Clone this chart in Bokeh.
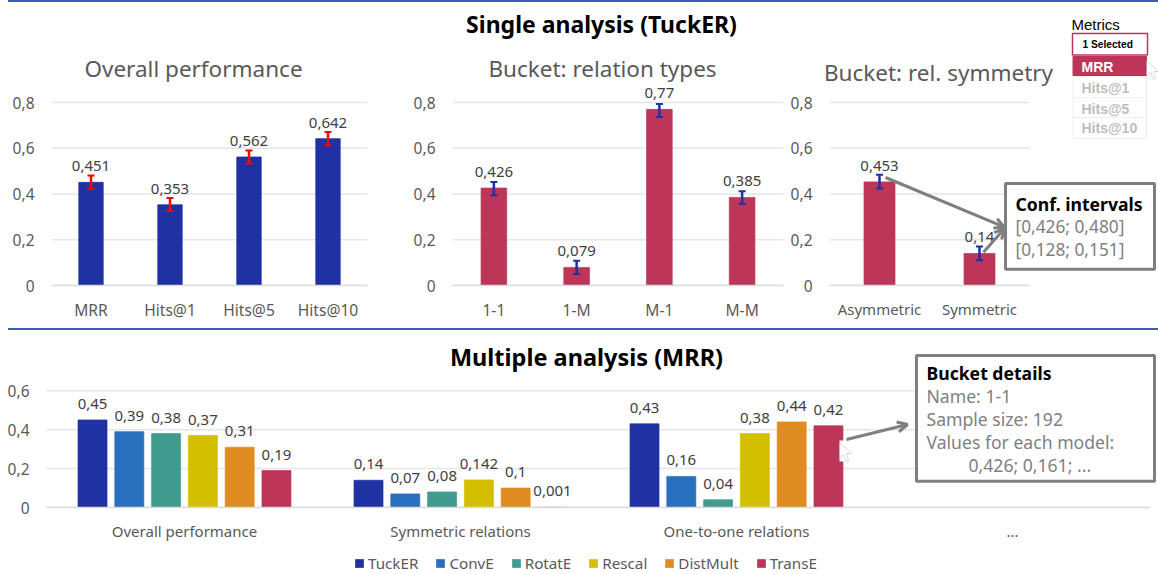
from bokeh.plotting import figure
from bokeh.layouts import column, row
from bokeh.embed import file_html
from bokeh.resources import INLINE
from bokeh.models import (ColumnDataSource, Range1d, FixedTicker, Whisker, TeeHead, Label, Div,
                          BoxAnnotation, Arrow, OpenHead, PolyAnnotation, Legend, LegendItem)
from bokeh.core.properties import value

# ---- data ----
overall_cats = ["MRR", "Hits@1", "Hits@5", "Hits@10"]
overall_vals = [0.451, 0.353, 0.562, 0.642]
overall_up = [0.481, 0.382, 0.590, 0.671]
overall_lo = [0.422, 0.326, 0.533, 0.613]

rel_cats = ["1-1", "1-M", "M-1", "M-M"]
rel_vals = [0.426, 0.079, 0.77, 0.385]
rel_up = [0.452, 0.108, 0.793, 0.412]
rel_lo = [0.395, 0.050, 0.737, 0.357]

sym_cats = ["Asymmetric", "Symmetric"]
sym_vals = [0.453, 0.14]
sym_up = [0.484, 0.170]
sym_lo = [0.424, 0.110]

groups = ["Overall performance", "Symmetric relations", "One-to-one relations", "..."]
models = ["TuckER", "ConvE", "RotatE", "Rescal", "DistMult", "TransE"]
tucker = [0.45, 0.14, 0.43]
conve = [0.39, 0.07, 0.16]
rotate = [0.38, 0.08, 0.04]
rescal = [0.37, 0.142, 0.38]
distmult = [0.31, 0.1, 0.44]
transe = [0.19, 0.001, 0.42]
series = [tucker, conve, rotate, rescal, distmult, transe]

metrics = ["MRR", "Hits@1", "Hits@5", "Hits@10"]

# ---- style ----
FONT = "Noto Sans"
BLUE = "#1f31a3"
CRIMSON = "#bd3659"
COLORS = [BLUE, "#2a6fbe", "#429b8f", "#d3bf00", "#de8b22", CRIMSON]
TXT = "#595959"
GRID = "#e6e6e6"
RULE = "#4358b8"
BOXC = "#7f7f7f"


def fmt(v):
    return f"{v:g}".replace(".", ",")


def lab(p, x, y, text, size=15, color=TXT, style="normal", align="left", font=FONT):
    p.add_layout(Label(x=x, y=y, x_units="canvas", y_units="canvas", text=text, level="overlay",
                       text_font=font, text_font_size=f"{size}px", text_color=color,
                       text_font_style=style, text_align=align, text_baseline="middle"))


def box(p, l, r, t, b, fill="white", line=BOXC, lw=3):
    p.add_layout(BoxAnnotation(left=l, right=r, top=t, bottom=b, left_units="canvas", right_units="canvas",
                               top_units="canvas", bottom_units="canvas", fill_color=fill, fill_alpha=1,
                               level="overlay",
                               line_color=line, line_width=lw, line_alpha=1 if line else 0))


def arrow(p, x0, y0, x1, y1):
    p.add_layout(Arrow(x_start=x0, y_start=y0, x_end=x1, y_end=y1, start_units="canvas", end_units="canvas",
                       line_color=BOXC, line_width=3, level="overlay",
                       end=OpenHead(size=10, line_color=BOXC, line_width=3)))


def cursor(p, x, y):
    xs = [x, x, x + 4, x + 7, x + 9, x + 7, x + 12]
    ys = [y, y + 16, y + 12, y + 19, y + 18, y + 11, y + 11]
    p.add_layout(PolyAnnotation(xs=xs, ys=ys, xs_units="canvas", ys_units="canvas", fill_color="white",
                                level="overlay",
                                fill_alpha=1, line_color="#808080", line_width=1))


def base(width, height, left, right, bottom, xr, n, cats, ymax, ticks, xsize):
    """Frame reaches the top edge so that overlays are not cut off; n = categories."""
    p = figure(width=width, height=height, x_range=Range1d(*xr), y_range=Range1d(0, ymax),
               output_backend="svg", toolbar_location=None,
               min_border_left=left, min_border_right=right, min_border_top=0, min_border_bottom=bottom,
               frame_width=width - left - right, frame_height=height - bottom)
    p.outline_line_color = None
    p.background_fill_color = "white"
    p.xgrid.grid_line_color = None
    p.ygrid.grid_line_color = None
    # grid lines only across the category band
    p.segment(x0=[0] * len(ticks), x1=[n] * len(ticks), y0=ticks, y1=ticks, line_color=GRID, line_width=1.5)
    pos = [i + 0.5 for i in range(n)]
    p.xaxis.ticker = FixedTicker(ticks=pos)
    p.xaxis.major_label_overrides = {x: c for x, c in zip(pos, cats)}
    p.yaxis.ticker = FixedTicker(ticks=ticks)
    p.yaxis.major_label_overrides = {t: fmt(t) for t in ticks}
    for ax in (p.xaxis[0], p.yaxis[0]):
        ax.major_tick_line_color = None
        ax.minor_tick_line_color = None
        ax.major_tick_out = 0
        ax.major_tick_in = 0
        ax.major_label_text_font = FONT
        ax.major_label_text_color = TXT
    p.xaxis[0].major_label_text_font_size = xsize
    p.xaxis[0].major_label_standoff = 13
    p.yaxis[0].major_label_text_font_size = "15.5px"
    p.yaxis[0].axis_line_color = None
    p.xaxis[0].axis_line_color = "#dcdcdc"
    p.xaxis[0].axis_line_width = 1.5
    p.xaxis[0].bounds = (0, n)
    return p


Y1 = 2
FRAME1 = 283
PX_PER_UNIT = 228.75


def panel(width, left, right, xr, standoff, cats, vals, up, lo, bar, err, xsize="15.6px"):
    n = len(cats)
    p = base(width, 326, left, right, 326 - FRAME1, xr, n, cats, FRAME1 / PX_PER_UNIT, [0, 0.2, 0.4, 0.6, 0.8], xsize)
    p.yaxis[0].major_label_standoff = standoff
    x = [i + 0.5 for i in range(n)]
    src = ColumnDataSource(dict(x=x, top=vals, up=up, lo=lo, t=[fmt(v) for v in vals]))
    p.vbar(x="x", top="top", width=0.31, source=src, fill_color=bar, line_color=bar, line_alpha=0.7)
    p.add_layout(Whisker(source=src, base="x", upper="up", lower="lo", line_color=err, line_width=2.5,
                         level="annotation",
                         upper_head=TeeHead(size=7, line_color=err, line_width=2),
                         lower_head=TeeHead(size=7, line_color=err, line_width=2)))
    p.text(x="x", y="top", text="t", source=src, text_align="center", text_baseline="middle", y_offset=-16,
           text_font=value(FONT), text_font_size="15px", text_color="#404040")
    return p


# ---- top row ----
pa = panel(400, 51, 33, (0, 4), 17, overall_cats, overall_vals, overall_up, overall_lo, BLUE, "#ff0000")
pb = panel(385, 52, 2, (0, 4), 17, rel_cats, rel_vals, rel_up, rel_lo, CRIMSON, BLUE)
# the third frame starts left of its bars and runs to the page edge, for the title, callout and slicer
pc = panel(373, 35, 0, (-0.09, 3.29), 8, sym_cats, sym_vals, sym_up, sym_lo, CRIMSON, BLUE, xsize="15px")

lab(pa, 193, 68 - Y1, "Overall performance", 22.5, align="center")
lab(pb, 202, 68 - Y1, "Bucket: relation types", 22.5, align="center")
lab(pb, 201, 23 - Y1, "Single analysis (TuckER)", 23, color="black", style="bold", align="center")
lab(pc, 153, 72 - Y1, "Bucket: rel. symmetry", 22.5, align="center")

OX = 785
arrow(pc, 885 - OX, 177 - Y1, 1004 - OX, 226.7 - Y1)
arrow(pc, 983 - OX, 251.7 - Y1, 1004 - OX, 228 - Y1)
box(pc, 1005 - OX, 1154 - OX, 183 - Y1, 268.7 - Y1)
lab(pc, 1015 - OX, 203 - Y1, "Conf. intervals", 17.6, color="black", style="bold")
lab(pc, 1015 - OX, 226 - Y1, "[0,426; 0,480]", 17.3, color="#808080")
lab(pc, 1015 - OX, 249 - Y1, "[0,128; 0,151]", 17.3, color="#808080")

# metrics slicer
lab(pc, 1071 - OX, 24 - Y1, "Metrics", 15, color="black", font="Liberation Sans")
box(pc, 1072 - OX, 1147 - OX, 33 - Y1, 54.5 - Y1, line=CRIMSON, lw=1.5)
lab(pc, 1082 - OX, 44 - Y1, "1 Selected", 10.2, color="black", style="bold", font="Liberation Sans")
box(pc, 1072.5 - OX, 1146 - OX, 56 - Y1, 75 - Y1, fill=CRIMSON, line=CRIMSON, lw=1)
lab(pc, 1081 - OX, 66 - Y1, metrics[0], 14, color="white", style="bold", font="Liberation Sans")
rows = [(76, 97, 87), (97, 117, 108), (117, 138, 127)]
for name, (t, b, c) in zip(metrics[1:], rows):
    box(pc, 1072.5 - OX, 1146 - OX, t - Y1, b - Y1, line="#efefef", lw=1)
    lab(pc, 1081 - OX, c - Y1, name, 14, color="#bdbdbd", style="bold", font="Liberation Sans")
cursor(pc, 1146 - OX, 60 - Y1)

# ---- bottom row ----
H2 = 220
Y2 = 330
FRAME2 = 177
ymax2 = 0.6 * FRAME2 / (506.7 - 390)
pd = base(1158, H2, 46, 0, H2 - FRAME2, (0, 4 + 8 / 276), 4, groups, ymax2, [0, 0.2, 0.4, 0.6], "15px")
pd.yaxis[0].major_label_standoff = 17

# the legend has a strip of its own, whose frame is the whole strip
strip = figure(width=1158, height=24, x_range=Range1d(0, 4), y_range=Range1d(1, 2), output_backend="svg",
               toolbar_location=None, x_axis_location=None, y_axis_location=None, min_border=0,
               frame_width=1158, frame_height=24)
strip.outline_line_color = None
strip.xgrid.grid_line_color = None
strip.ygrid.grid_line_color = None

items = []
for i, (name, vals) in enumerate(zip(models, series)):
    off = (i - 2.5) * 0.1333
    src = ColumnDataSource(dict(x=[g + 0.5 + off for g in range(len(vals))], top=vals, t=[fmt(v) for v in vals]))
    pd.vbar(x="x", top="top", width=0.105, source=src,
            fill_color=COLORS[i], line_color=COLORS[i], line_alpha=0.7)
    pd.text(x="x", y="top", text="t", source=src, text_align="center",
            text_baseline="middle", y_offset=-16, text_font=value(FONT), text_font_size="15px",
            text_color="#404040")
    # same bars in the strip: below its y range, they only supply the legend's swatch
    r = strip.vbar(x="x", top="top", width=0.105, source=src, fill_color=COLORS[i], line_color=COLORS[i],
                   line_alpha=0.7)
    items.append(LegendItem(label=name, renderers=[r]))

leg = Legend(items=items, orientation="horizontal", location=(354, 1), glyph_width=10, glyph_height=10,
             label_standoff=4, spacing=17, padding=0, margin=0, border_line_color=None, background_fill_alpha=0,
             label_text_font=FONT, label_text_font_size="15.2px", label_text_color=TXT)
strip.add_layout(leg, "center")

lab(pd, 586, 356 - Y2, "Multiple analysis (MRR)", 23.5, color="black", style="bold", align="center")

arrow(pd, 846, 439 - Y2, 907, 424 - Y2)
box(pd, 839, 844, 440 - Y2, 461 - Y2, line=None, lw=0)
cursor(pd, 839, 442 - Y2)
box(pd, 916, 1154, 355 - Y2, 480.7 - Y2)
lab(pd, 926, 372 - Y2, "Bucket details", 17.6, color="black", style="bold")
lab(pd, 926, 395 - Y2, "Name: 1-1", 17.6, color="#808080")
lab(pd, 926, 418 - Y2, "Sample size: 192", 17.6, color="#808080")
lab(pd, 926, 441 - Y2, "Values for each model:", 17.6, color="#808080")
lab(pd, 968, 464 - Y2, "0,426; 0,161; ...", 17.6, color="#808080")

top_rule = Div(width=1150, height=2, margin=(0, 0, 0, 8), styles={"background-color": RULE})
mid_rule = Div(width=1150, height=2, margin=(0, 0, 0, 8), styles={"background-color": RULE})
page = column(top_rule, row(pa, pb, pc, spacing=0), mid_rule, pd, strip, spacing=0)
open("out.html", "w").write(file_html(page, INLINE))
